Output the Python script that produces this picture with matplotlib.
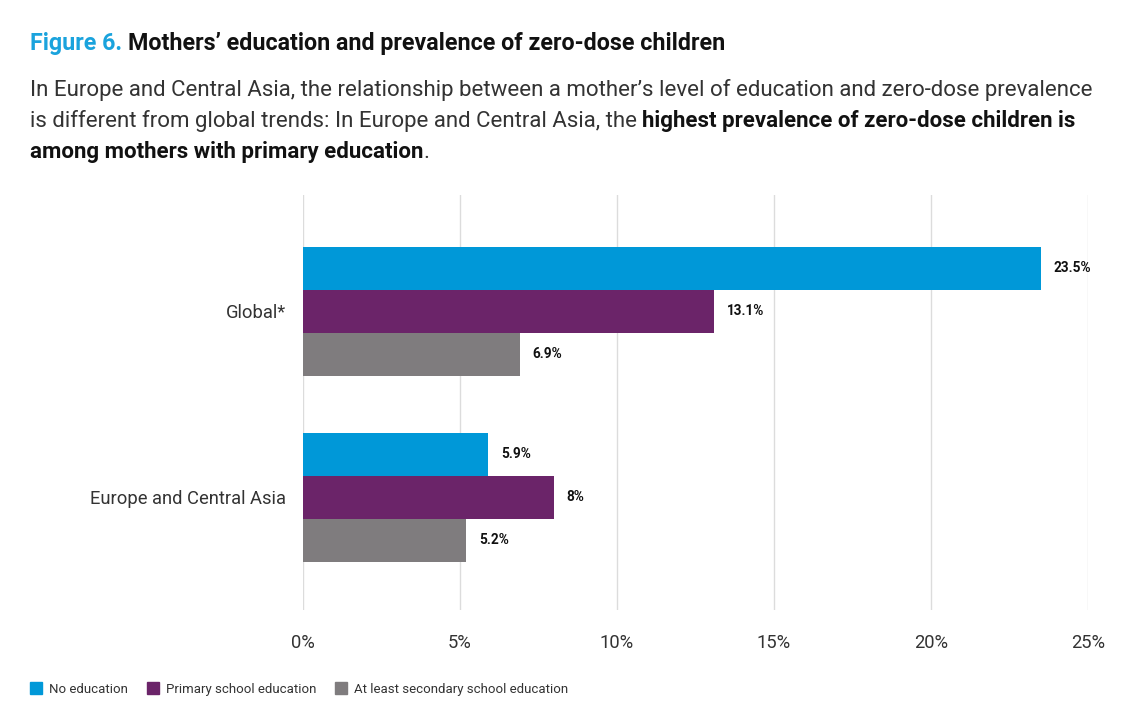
import matplotlib
matplotlib.use("Agg")
import matplotlib.pyplot as plt
from matplotlib.patches import Rectangle

categories = ["Europe and Central Asia", "Global*"]
series_names = ["No education", "Primary school education", "At least secondary school education"]
no_education = [5.9, 23.5]
primary = [8.0, 13.1]
secondary = [5.2, 6.9]
value_labels = [["5.9%", "23.5%"], ["8%", "13.1%"], ["5.2%", "6.9%"]]
xticks = [0, 5, 10, 15, 20, 25]
xtick_labels = ["0%", "5%", "10%", "15%", "20%", "25%"]

colors = ["#0098D8", "#6B2469", "#7F7C7E"]
FONT = "Roboto"

W, H = 1140, 728
fig = plt.figure(figsize=(W / 100, H / 100), dpi=100)
fig.patch.set_facecolor("white")

ax = fig.add_axes([303 / W, 1 - 610 / H, (1088 - 303) / W, (610 - 195) / H])
bh = 0.231
series = [no_education, primary, secondary]
ypos = list(range(len(categories)))
for i, vals in enumerate(series):
    offs = (1 - i) * bh
    ys = [y + offs for y in ypos]
    ax.barh(ys, vals, height=bh, color=colors[i], zorder=3)
    for y, v, lab in zip(ys, vals, value_labels[i]):
        ax.annotate(lab, (v, y), xytext=(9, 0), textcoords="offset points",
                    ha="left", va="center", fontsize=9.8, fontweight="bold",
                    family=FONT, color="#111111")

ax.set_xlim(0, 25)
ax.set_ylim(-0.607, 1.624)
ax.set_xticks(xticks)
ax.set_xticklabels(xtick_labels, family=FONT, fontsize=13.2, color="#333333")
ax.set_yticks(ypos)
ax.set_yticklabels(categories, family=FONT, fontsize=13.2, color="#333333")
ax.tick_params(axis="both", length=0)
ax.tick_params(axis="x", pad=17)
ax.tick_params(axis="y", pad=12)
ax.grid(axis="x", color="#DCDCDC", linewidth=1, zorder=0)
for s in ax.spines.values():
    s.set_visible(False)

fig.canvas.draw()
renderer = fig.canvas.get_renderer()


def runs(x, y, parts, size, target=None):
    """Draw consecutive text runs starting at pixel (x, y from top)."""
    if target is not None:
        total = 0
        for txt, weight, col in parts:
            t = fig.text(0, 0, txt, fontsize=size, fontweight=weight, family=FONT)
            total += t.get_window_extent(renderer=renderer).width
            t.remove()
        size = size * target / total
    cx = x
    for txt, weight, col in parts:
        t = fig.text(cx / W, 1 - y / H, txt, fontsize=size, fontweight=weight,
                     color=col, family=FONT, ha="left", va="baseline")
        bb = t.get_window_extent(renderer=renderer)
        cx += bb.width
    return size

runs(30, 50, [("Figure 6. ", "bold", "#1AA3DD"),
              ("Mothers\u2019 education and prevalence of zero-dose children", "bold", "#111111")],
     15, target=697)

sub_col = "#333333"
sz = runs(30, 96, [("In Europe and Central Asia, the relationship between a mother\u2019s level of education and zero-dose prevalence", "normal", sub_col)], 15, target=1063)
runs(30, 127, [("is different from global trends: In Europe and Central Asia, the ", "normal", sub_col),
               ("highest prevalence of zero-dose children is", "bold", "#111111")], sz)
runs(30, 158, [("among mothers with primary education", "bold", "#111111"),
               (".", "normal", sub_col)], sz)

# legend
lx = 30
for name, col in zip(series_names, colors):
    fig.patches.append(Rectangle((lx / W, 1 - 694 / H), 12 / W, 12 / H,
                                 transform=fig.transFigure, color=col, figure=fig))
    t = fig.text((lx + 19) / W, 1 - 693 / H, name, fontsize=9.5, family=FONT,
                 color="#333333", ha="left", va="baseline")
    bb = t.get_window_extent(renderer=renderer)
    lx += 19 + bb.width + 19

fig.savefig("out.png", dpi=100, facecolor="white")
